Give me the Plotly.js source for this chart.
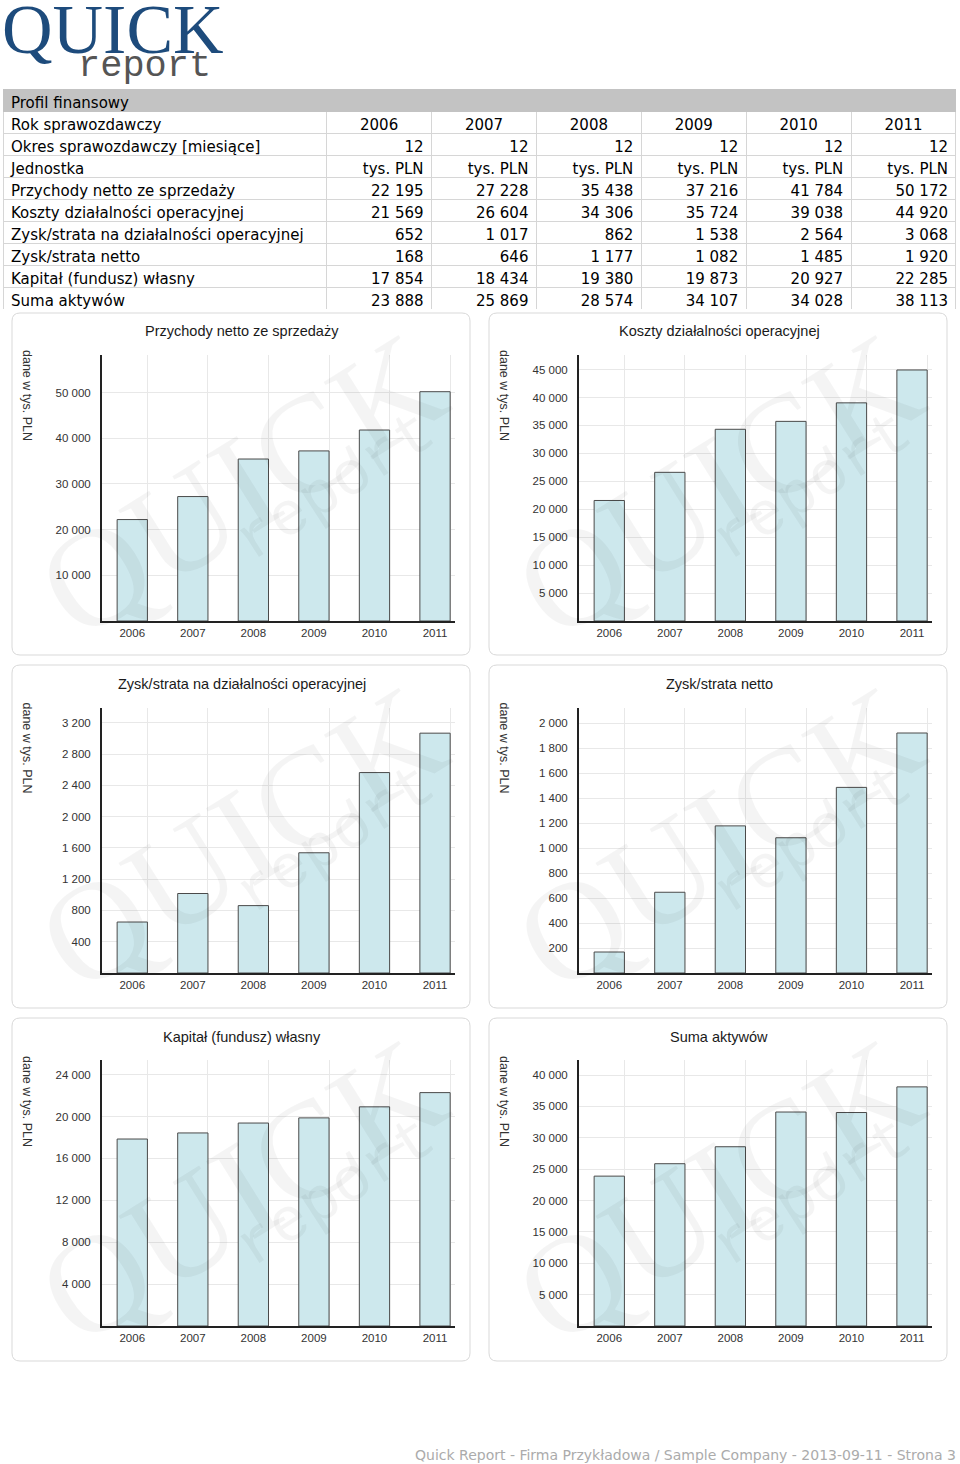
<!DOCTYPE html>
<html>
<head>
<meta charset="utf-8">
<script src="https://cdn.plot.ly/plotly-3.0.1.min.js"></script>
<style>
html,body{margin:0;padding:0;background:#fff;}
#page{width:960px;height:1464px;}
</style>
</head>
<body>
<div id="page"></div>
<script>
// ---------- data ----------
const years = ['2006', '2007', '2008', '2009', '2010', '2011'];
const okres = [12, 12, 12, 12, 12, 12];
const jednostka = ['tys. PLN', 'tys. PLN', 'tys. PLN', 'tys. PLN', 'tys. PLN', 'tys. PLN'];
const przychody = [22195, 27228, 35438, 37216, 41784, 50172];
const koszty = [21569, 26604, 34306, 35724, 39038, 44920];
const zyskOper = [652, 1017, 862, 1538, 2564, 3068];
const zyskNetto = [168, 646, 1177, 1082, 1485, 1920];
const kapital = [17854, 18434, 19380, 19873, 20927, 22285];
const aktywa = [23888, 25869, 28574, 34107, 34028, 38113];

const tableHeader = 'Profil finansowy';
const rowLabels = ['Rok sprawozdawczy', 'Okres sprawozdawczy [miesiące]', 'Jednostka',
  'Przychody netto ze sprzedaży', 'Koszty działalności operacyjnej',
  'Zysk/strata na działalności operacyjnej', 'Zysk/strata netto',
  'Kapitał (fundusz) własny', 'Suma aktywów'];

const chartTitles = ['Przychody netto ze sprzedaży', 'Koszty działalności operacyjnej',
  'Zysk/strata na działalności operacyjnej', 'Zysk/strata netto',
  'Kapitał (fundusz) własny', 'Suma aktywów'];
const yAxisLabel = 'dane w tys. PLN';

const ticks1 = [10000, 20000, 30000, 40000, 50000];
const ticks2 = [5000, 10000, 15000, 20000, 25000, 30000, 35000, 40000, 45000];
const ticks3 = [400, 800, 1200, 1600, 2000, 2400, 2800, 3200];
const ticks4 = [200, 400, 600, 800, 1000, 1200, 1400, 1600, 1800, 2000];
const ticks5 = [4000, 8000, 12000, 16000, 20000, 24000];
const ticks6 = [5000, 10000, 15000, 20000, 25000, 30000, 35000, 40000];
const yMax = [58200, 47600, 3390, 2120, 25400, 42400];

const footerText = 'Quick Report - Firma Przykładowa / Sample Company - 2013-09-11 - Strona 3';

// ---------- helpers ----------
const W = 960, H = 1464;
const fx = p => p / W;
const fy = p => 1 - p / H;
const fmt = n => String(n).replace(/\B(?=(\d{3})+(?!\d))/g, ' ');

const series = [przychody, koszty, zyskOper, zyskNetto, kapital, aktywa];
const tickSets = [ticks1, ticks2, ticks3, ticks4, ticks5, ticks6];
const idx = years.map((_, i) => i);

const colGeo = [
  {x0: 102, x1: 455, boxL: 12, boxR: 470, lab: 27, tc: 242},
  {x0: 579, x1: 932, boxL: 489, boxR: 947, lab: 504, tc: 719}
];
const rowGeo = [
  {yt: 355, yb: 621, boxT: 313, boxB: 655, tY: 331.5, labY: 395},
  {yt: 708, yb: 973, boxT: 665, boxB: 1008, tY: 684.5, labY: 747.5},
  {yt: 1060, yb: 1326, boxT: 1018, boxB: 1361, tY: 1037, labY: 1101}
];

const traces = [];
const layout = {
  width: W, height: H,
  margin: {l: 0, r: 0, t: 0, b: 0, pad: 0},
  paper_bgcolor: '#ffffff',
  plot_bgcolor: 'rgba(0,0,0,0)',
  showlegend: false,
  annotations: [],
  shapes: []
};

// ---------- table ----------
const tableCols = [rowLabels];
const alignCols = [rowLabels.map(() => 'left')];
years.forEach((y, j) => {
  tableCols.push([y, String(okres[j]), jednostka[j], fmt(przychody[j]), fmt(koszty[j]),
    fmt(zyskOper[j]), fmt(zyskNetto[j]), fmt(kapital[j]), fmt(aktywa[j])]);
  alignCols.push(['center', 'right', 'right', 'right', 'right', 'right', 'right', 'right', 'right']);
});
traces.push({
  type: 'table',
  domain: {x: [fx(3), fx(957)], y: [fy(309), fy(89)]},
  columnwidth: [324, 105, 105, 105, 105, 105, 105],
  header: {
    values: [[tableHeader], [''], [''], [''], [''], [''], ['']],
    align: 'left',
    fill: {color: '#c3c3c3'},
    line: {color: '#c3c3c3', width: 1},
    font: {family: 'DejaVu Sans', size: 15, color: '#000'},
    height: 22
  },
  cells: {
    values: tableCols,
    align: alignCols,
    fill: {color: '#ffffff'},
    line: {color: '#d6d6d6', width: 1},
    font: {family: 'DejaVu Sans', size: 15, color: '#000'},
    height: 22
  }
});

// ---------- charts ----------
for (let k = 0; k < 6; k++) {
  const c = colGeo[k % 2], r = rowGeo[Math.floor(k / 2)];
  const sfx = k === 0 ? '' : String(k + 1);
  traces.push({
    type: 'bar',
    x: idx,
    y: series[k],
    width: 0.5,
    xaxis: 'x' + sfx,
    yaxis: 'y' + sfx,
    marker: {color: '#cde8ed', line: {color: '#4a4a4a', width: 1}},
    hoverinfo: 'skip'
  });
  layout['xaxis' + sfx] = {
    domain: [fx(c.x0), fx(c.x1)],
    anchor: 'y' + sfx,
    range: [-0.5, 5.33],
    tickmode: 'array',
    tickvals: idx,
    ticktext: years,
    showgrid: false,
    zeroline: false,
    showline: true, linewidth: 2, linecolor: '#222',
    ticks: '',
    ticklabelstandoff: 0,
    tickfont: {family: 'Liberation Sans', size: 11.5, color: '#333'},
    minor: {tick0: 0.25, dtick: 1, showgrid: true, gridcolor: '#e8e8e8', gridwidth: 1, ticks: ''},
    fixedrange: true
  };
  layout['yaxis' + sfx] = {
    domain: [fy(r.yb), fy(r.yt)],
    anchor: 'x' + sfx,
    range: [0, yMax[k]],
    tickmode: 'array',
    tickvals: tickSets[k],
    ticktext: tickSets[k].map(fmt),
    showgrid: true, gridcolor: '#e8e8e8', gridwidth: 1,
    zeroline: false,
    showline: true, linewidth: 2, linecolor: '#222',
    ticks: '',
    ticklabelstandoff: 7,
    tickfont: {family: 'Liberation Sans', size: 11.5, color: '#333'},
    fixedrange: true
  };

  // panel box
  const x0 = fx(c.boxL), x1 = fx(c.boxR), y0 = fy(r.boxT), y1 = fy(r.boxB);
  const rx = 8 / W, ry = 8 / H;
  layout.shapes.push({
    type: 'path', xref: 'paper', yref: 'paper', layer: 'below',
    path: `M ${x0 + rx},${y0} L ${x1 - rx},${y0} Q ${x1},${y0} ${x1},${y0 - ry} L ${x1},${y1 + ry} Q ${x1},${y1} ${x1 - rx},${y1} L ${x0 + rx},${y1} Q ${x0},${y1} ${x0},${y1 + ry} L ${x0},${y0 - ry} Q ${x0},${y0} ${x0 + rx},${y0} Z`,
    line: {color: '#d9d9d9', width: 1},
    fillcolor: 'rgba(0,0,0,0)'
  });

  // title
  layout.annotations.push({
    xref: 'paper', yref: 'paper', x: fx(c.tc), y: fy(r.tY),
    xanchor: 'center', yanchor: 'middle', showarrow: false,
    text: chartTitles[k],
    font: {family: 'Liberation Sans', size: 14.5, color: '#1a1a1a'}
  });
  // y label
  layout.annotations.push({
    xref: 'paper', yref: 'paper', x: fx(c.lab), y: fy(r.labY),
    xanchor: 'center', yanchor: 'middle', showarrow: false,
    textangle: 90,
    text: yAxisLabel,
    font: {family: 'Liberation Sans', size: 12.5, color: '#333'}
  });
  // watermark
  const cx = (c.boxL + c.boxR) / 2, cy = (r.boxT + r.boxB) / 2 + 2;
  layout.annotations.push({
    xref: 'paper', yref: 'paper', x: fx(cx), y: fy(cy),
    xanchor: 'center', yanchor: 'middle', showarrow: false,
    textangle: -32,
    text: 'QUICK',
    font: {family: 'Liberation Serif', size: 140, color: 'rgba(0,0,0,0.045)'}
  });
  layout.annotations.push({
    xref: 'paper', yref: 'paper', x: fx(cx + 95), y: fy(cy + 2),
    xanchor: 'center', yanchor: 'middle', showarrow: false,
    textangle: -33,
    text: 'report',
    font: {family: 'Liberation Mono', size: 62, color: 'rgba(0,0,0,0.045)'}
  });
}

// ---------- logo & footer ----------
layout.annotations.push({
  xref: 'paper', yref: 'paper', x: 0, y: fy(30),
  xanchor: 'left', yanchor: 'middle', showarrow: false,
  text: 'QUICK',
  font: {family: 'Liberation Serif', size: 70, color: '#1d4b7c'}
});
layout.annotations.push({
  xref: 'paper', yref: 'paper', x: fx(76), y: fy(66),
  xanchor: 'left', yanchor: 'middle', showarrow: false,
  text: 'report',
  font: {family: 'Liberation Mono', size: 37, color: '#555555'}
});
layout.annotations.push({
  xref: 'paper', yref: 'paper', x: fx(958), y: fy(1455),
  xanchor: 'right', yanchor: 'middle', showarrow: false,
  text: footerText,
  font: {family: 'DejaVu Sans', size: 14, color: '#ababab'}
});

Plotly.newPlot('page', traces, layout, {displayModeBar: false, staticPlot: true});
</script>
</body>
</html>
